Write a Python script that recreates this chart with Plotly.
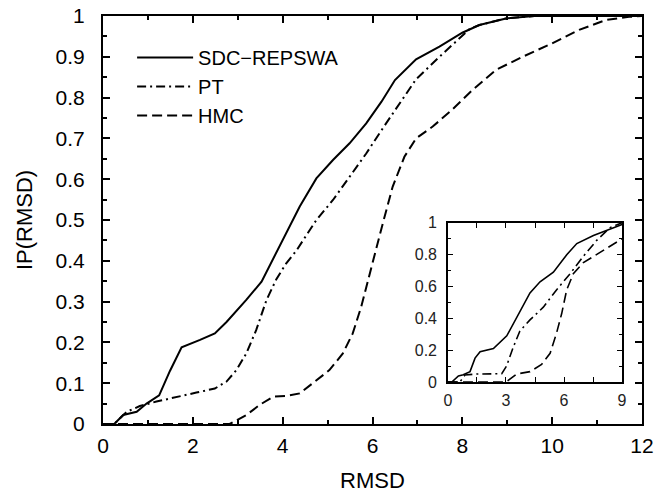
import plotly.graph_objects as go

# ---- main panel data ----
sdc_x = [0, 0.25, 0.45, 0.75, 0.97, 1.25, 1.49, 1.75, 2.16, 2.49, 2.75, 3.19, 3.53, 3.86, 4.0, 4.38,
         4.75, 5.12, 5.49, 5.86, 6.2, 6.5, 6.97, 7.49, 8.0, 8.38, 8.97, 9.3, 9.6, 12]
sdc_y = [0, 0, 0.022, 0.03, 0.05, 0.07, 0.13, 0.188, 0.206, 0.222, 0.25, 0.304, 0.349, 0.42, 0.451, 0.533,
         0.602, 0.647, 0.688, 0.737, 0.79, 0.843, 0.894, 0.925, 0.959, 0.978, 0.994, 0.998, 1, 1]

pt_x = [0, 0.25, 0.53, 0.82, 1.19, 1.64, 2.08, 2.49, 2.75, 2.97, 3.19, 3.41, 3.64, 3.86, 4.08, 4.3,
        4.75, 5.12, 5.49, 5.86, 6.23, 6.6, 6.97, 7.49, 7.93, 8.16, 8.38, 8.97, 9.6, 12]
pt_y = [0, 0, 0.03, 0.044, 0.055, 0.067, 0.077, 0.087, 0.104, 0.132, 0.173, 0.23, 0.304, 0.355, 0.394, 0.424,
        0.5, 0.549, 0.606, 0.663, 0.725, 0.786, 0.845, 0.9, 0.945, 0.968, 0.978, 0.994, 1, 1]

hmc_x = [0, 2.82, 3.19, 3.49, 3.79, 4.08, 4.38, 4.67, 5.04, 5.34, 5.56, 5.75, 5.9, 6.04, 6.23, 6.45,
         6.71, 6.97, 7.34, 7.75, 8.23, 8.75, 9.34, 10.0, 10.6, 11.19, 11.71, 12]
hmc_y = [0, 0, 0.022, 0.047, 0.067, 0.069, 0.075, 0.1, 0.132, 0.173, 0.222, 0.288, 0.353, 0.41, 0.492, 0.582,
         0.655, 0.7, 0.729, 0.768, 0.819, 0.868, 0.9, 0.933, 0.966, 0.99, 0.998, 1]

# ---- inset data ----
in_sdc_x = [0, 0.2, 0.54, 0.79, 1.14, 1.4, 1.66, 2.35, 3.04, 3.72, 4.24, 4.76, 5.45, 6.14, 6.66, 7.52, 8.38, 9]
in_sdc_y = [0, 0, 0.038, 0.045, 0.065, 0.15, 0.19, 0.21, 0.29, 0.44, 0.56, 0.63, 0.69, 0.8, 0.87, 0.92, 0.96, 0.99]

in_pt_x = [0, 0.62, 0.88, 1.5, 2.78, 3.03, 3.38, 3.72, 4.24, 4.93, 5.62, 6.31, 7.0, 7.69, 8.38, 9]
in_pt_y = [0, 0, 0.044, 0.05, 0.052, 0.1, 0.22, 0.32, 0.39, 0.47, 0.58, 0.68, 0.79, 0.89, 0.97, 1.0]

in_hmc_x = [0, 3.0, 3.55, 4.24, 4.84, 5.28, 5.62, 5.88, 6.14, 6.48, 7.0, 7.69, 8.38, 9]
in_hmc_y = [0, 0, 0.05, 0.065, 0.11, 0.18, 0.31, 0.43, 0.58, 0.68, 0.75, 0.8, 0.85, 0.9]

names = ["SDC\u2212REPSWA", "PT", "HMC"]
dashes = ["solid", "9px,4px,2px,4px", "10px,5px"]

FONT = "Liberation Sans, Arial, Helvetica, sans-serif"

fig = go.Figure()
for (xs, ys), nm, ds in zip([(sdc_x, sdc_y), (pt_x, pt_y), (hmc_x, hmc_y)], names, dashes):
    fig.add_trace(go.Scatter(x=xs, y=ys, mode="lines", name=nm,
                             line=dict(color="black", width=2, dash=ds),
                             xaxis="x", yaxis="y"))
for (xs, ys), nm, ds in zip([(in_sdc_x, in_sdc_y), (in_pt_x, in_pt_y), (in_hmc_x, in_hmc_y)], names, dashes):
    fig.add_trace(go.Scatter(x=xs, y=ys, mode="lines", name=nm, showlegend=False,
                             line=dict(color="black", width=1.6, dash=ds),
                             xaxis="x2", yaxis="y2"))

axis_common = dict(showgrid=False, zeroline=False, showline=True, linecolor="black",
                   linewidth=2, mirror="allticks", ticks="inside", tickcolor="black",
                   tickwidth=1.5, automargin=False, ticklabeloverflow="allow")

fig.update_layout(
    template="none",
    width=657, height=493,
    margin=dict(l=103, r=15, t=16, b=69),
    paper_bgcolor="white", plot_bgcolor="white",
    font=dict(family=FONT, size=21, color="black"),
    xaxis=dict(**axis_common, range=[0, 12], tickvals=[0, 2, 4, 6, 8, 10, 12], ticklen=7,
               minor=dict(dtick=1, ticks="inside", ticklen=4, tickcolor="black", tickwidth=1.5),
               title=dict(text="RMSD", standoff=16, font=dict(size=22)),
               ticklabelstandoff=2, tickfont=dict(size=21)),
    yaxis=dict(**axis_common, range=[0, 1], ticklen=7,
               tickvals=[0, 0.1, 0.2, 0.3, 0.4, 0.5, 0.6, 0.7, 0.8, 0.9, 1],
               ticktext=["0", "0.1", "0.2", "0.3", "0.4", "0.5", "0.6", "0.7", "0.8", "0.9", "1"],
               minor=dict(dtick=0.05, ticks="inside", ticklen=4, tickcolor="black", tickwidth=1.5),
               title=dict(text="IP(RMSD)", standoff=17, font=dict(size=22)),
               ticklabelstandoff=12, tickfont=dict(size=21)),
    xaxis2=dict(**{**axis_common, "linewidth": 1.5, "tickwidth": 1.2}, domain=[0.640, 0.963], anchor="y2",
                range=[0, 9], tickvals=[0, 3, 6, 9], ticklen=5,
                minor=dict(tickvals=[1.5, 4.5, 7.5], ticks="inside", ticklen=5, tickcolor="black", tickwidth=1.2),
                ticklabelstandoff=3, tickfont=dict(size=16, color="#222")),
    yaxis2=dict(**{**axis_common, "linewidth": 1.5, "tickwidth": 1.2}, domain=[0.103, 0.493], anchor="x2",
                range=[0, 1], tickvals=[0, 0.2, 0.4, 0.6, 0.8, 1],
                ticktext=["0", "0.2", "0.4", "0.6", "0.8", "1"], ticklen=5,
                minor=dict(dtick=0.1, ticks="inside", ticklen=3, tickcolor="black", tickwidth=1.2),
                ticklabelstandoff=6, tickfont=dict(size=16, color="#222")),
    legend=dict(x=0.054, y=0.946, xanchor="left", yanchor="top", bgcolor="rgba(0,0,0,0)",
                font=dict(size=20), itemwidth=56, tracegroupgap=0),
)

# remove the browser's default page margin so the 657x493 figure fills the window exactly
fig.write_html("out.html", config={"displayModeBar": False},
               post_script="document.body.style.margin='0px';")
